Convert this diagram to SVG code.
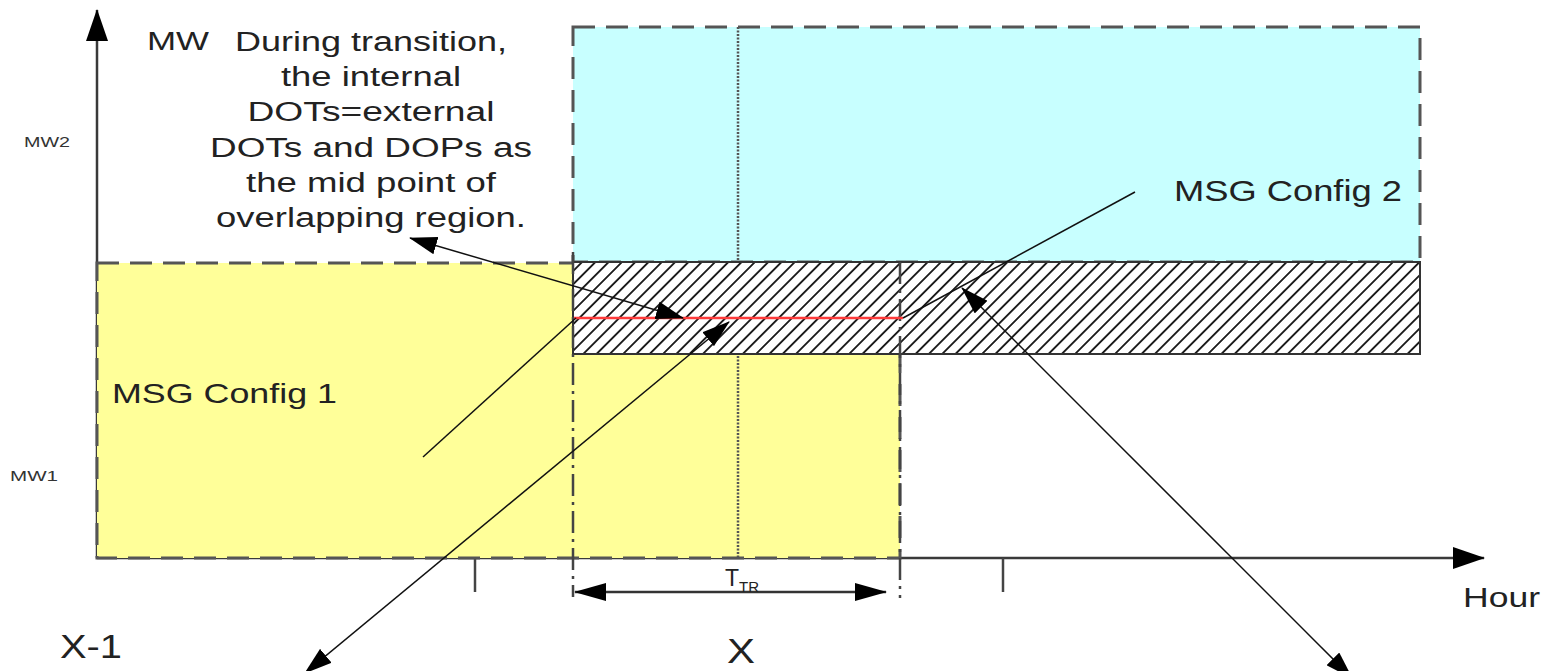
<svg xmlns="http://www.w3.org/2000/svg" width="1551" height="671" viewBox="0 0 1551 671">
<style>
text{font-family:"Liberation Sans",Arial,sans-serif;fill:#222}
.ax{stroke:#3a3a3a;stroke-width:2.5;fill:none}
.dash{stroke:#555;stroke-width:3;stroke-dasharray:22 11}
.dd{stroke:#444;stroke-width:2.5;stroke-dasharray:22 6 3 6;fill:none}
.dot{stroke:#555;stroke-width:2.5;stroke-dasharray:2 1.5;fill:none}
.ln{stroke:#111;stroke-width:1.5;fill:none}
.tick{stroke:#444;stroke-width:2.5}
</style>
<defs>
<marker id="ah" viewBox="0 0 28 18" refX="27" refY="9" markerWidth="28" markerHeight="18" markerUnits="userSpaceOnUse" orient="auto-start-reverse"><path d="M0,0 L28,9 L0,18 z" fill="#000"/></marker>
<marker id="dh" viewBox="0 0 32 18" refX="31" refY="9" markerWidth="32" markerHeight="18" markerUnits="userSpaceOnUse" orient="auto-start-reverse"><path d="M0,0 L32,9 L0,18 z" fill="#000"/></marker>
<marker id="axh" viewBox="0 0 32 22" refX="31" refY="11" markerWidth="32" markerHeight="22" markerUnits="userSpaceOnUse" orient="auto"><path d="M0,0 L32,11 L0,22 z" fill="#000"/></marker>
<pattern id="hatch" patternUnits="userSpaceOnUse" width="9.4" height="10" patternTransform="rotate(45)"><rect width="9.4" height="10" fill="#fff"/><line x1="4.7" y1="0" x2="4.7" y2="10" stroke="#111" stroke-width="1.8"/></pattern>
</defs>

<g id="axes">
<line class="ax" x1="97" y1="558" x2="97" y2="10" marker-end="url(#axh)"/>
<line class="ax" x1="97" y1="558" x2="1484" y2="558" marker-end="url(#axh)"/>
<line class="tick" x1="475" y1="558" x2="475" y2="592"/>
<line class="tick" x1="1003" y1="558" x2="1003" y2="592"/>
</g>

<g id="config1">
<rect x="97" y="263" width="803" height="295" style="fill:#FFFF99" class="dash"/>
</g>
<g id="config2">
<rect x="573" y="27" width="847" height="235" style="fill:#C8FFFF" class="dash"/>
</g>
<line id="mid-dotted" class="dot" x1="738" y1="27" x2="738" y2="558"/>
<g id="overlap">
<rect x="573" y="262" width="847" height="92" fill="url(#hatch)" stroke="#333" stroke-width="2"/>
</g>
<line id="dashdot-left" class="dd" x1="573" y1="252" x2="573" y2="597"/>
<line id="dashdot-right" class="dd" x1="900" y1="262" x2="900" y2="598"/>
<line id="red-line" x1="574" y1="318" x2="903" y2="318" stroke="#FF3C3C" stroke-width="2.5"/>

<g id="connectors">
<line class="ln" x1="410" y1="238" x2="683" y2="318" marker-start="url(#ah)" marker-end="url(#ah)"/>
<line class="ln" x1="305" y1="673" x2="729" y2="322" marker-start="url(#ah)" marker-end="url(#ah)"/>
<line class="ln" x1="962" y1="288" x2="1352" y2="678" marker-start="url(#ah)" marker-end="url(#ah)"/>
<line class="ln" x1="423" y1="457" x2="576" y2="318"/>
<line class="ln" x1="1135" y1="192" x2="903" y2="318"/>
<line x1="575" y1="592" x2="886" y2="592" stroke="#333" stroke-width="2.5" marker-start="url(#dh)" marker-end="url(#dh)"/>
</g>

<g id="labels">
<text x="147" y="50" font-size="26" textLength="62" lengthAdjust="spacingAndGlyphs">MW</text>
<g id="note" font-size="27" text-anchor="middle">
<text x="371" y="51" textLength="272" lengthAdjust="spacingAndGlyphs">During transition,</text>
<text x="371" y="86" textLength="180" lengthAdjust="spacingAndGlyphs">the internal</text>
<text x="371" y="121" textLength="247" lengthAdjust="spacingAndGlyphs">DOTs=external</text>
<text x="371" y="157" textLength="322" lengthAdjust="spacingAndGlyphs">DOTs and DOPs as</text>
<text x="371" y="192" textLength="250" lengthAdjust="spacingAndGlyphs">the mid point of</text>
<text x="371" y="227" textLength="310" lengthAdjust="spacingAndGlyphs">overlapping region.</text>
</g>
<text x="24" y="147" font-size="14" textLength="46" lengthAdjust="spacingAndGlyphs" style="fill:#333">MW2</text>
<text x="10" y="481" font-size="14" textLength="48" lengthAdjust="spacingAndGlyphs" style="fill:#333">MW1</text>
<text x="112" y="403" font-size="28" textLength="225" lengthAdjust="spacingAndGlyphs">MSG Config 1</text>
<text x="1174" y="201" font-size="29" textLength="228" lengthAdjust="spacingAndGlyphs">MSG Config 2</text>
<text x="725" y="586" font-size="23">T<tspan font-size="15" dy="6">TR</tspan></text>
<text x="1463" y="607" font-size="28" textLength="77" lengthAdjust="spacingAndGlyphs">Hour</text>
<text x="60" y="658" font-size="34" textLength="62" lengthAdjust="spacingAndGlyphs">X-1</text>
<text x="727" y="663" font-size="35" textLength="28" lengthAdjust="spacingAndGlyphs">X</text>
</g>
</svg>
